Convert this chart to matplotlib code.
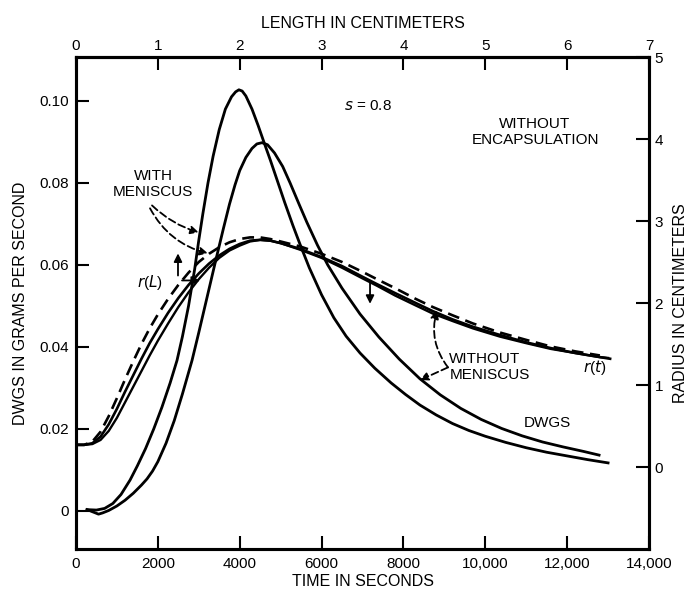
import matplotlib
matplotlib.use("Agg")
import matplotlib.pyplot as plt
import numpy as np

plt.rcParams['font.family'] = ['Liberation Sans', 'DejaVu Sans']

# ---------------- data ----------------
# DWGS with meniscus (tall peak), grams per second vs time in seconds
dwgs_with_t = [270, 500, 700, 900, 1100, 1320, 1500, 1700, 1900, 2100, 2300, 2468, 2600, 2750,
               2900, 3000, 3100, 3225, 3350, 3500, 3650, 3800, 3900, 3980, 4060, 4150, 4300,
               4450, 4600, 4750, 4910, 5100, 5300, 5474, 5700, 6000, 6300, 6600, 6940, 7300,
               7700, 8050, 8405, 8800, 9200, 9600, 10000, 10500, 11000, 11500, 12000, 12500, 13000]
dwgs_with = [0.0003, 0.0002, 0.0006, 0.0018, 0.0040, 0.0075, 0.0110, 0.0152, 0.0200, 0.0253,
             0.0312, 0.0367, 0.0425, 0.0500, 0.0590, 0.0660, 0.0725, 0.0800, 0.0865, 0.0930,
             0.0980, 0.1010, 0.1022, 0.1027, 0.1024, 0.1012, 0.0980, 0.0940, 0.0897, 0.0855,
             0.0808, 0.0752, 0.0696, 0.0650, 0.0593, 0.0527, 0.0471, 0.0426, 0.0385, 0.0348,
             0.0312, 0.0284, 0.0258, 0.0234, 0.0213, 0.0196, 0.0182, 0.0167, 0.0154, 0.0143,
             0.0134, 0.0125, 0.0117]
# DWGS without meniscus (broad peak)
dwgs_without_t = [270, 450, 550, 650, 800, 1000, 1200, 1400, 1600, 1735, 1870, 2000, 2200, 2400,
                  2600, 2835, 3000, 3200, 3400, 3600, 3750, 3885, 4000, 4150, 4300, 4420, 4544,
                  4680, 4850, 5050, 5230, 5450, 5640, 5900, 6150, 6500, 6940, 7400, 7900, 8405,
                  8900, 9400, 9900, 10400, 10900, 11400, 11900, 12400, 12780]
dwgs_without = [0.0003, -0.0004, -0.0008, -0.0005, 0.0001, 0.0012, 0.0026, 0.0043, 0.0063,
                0.0078, 0.0097, 0.0120, 0.0165, 0.0220, 0.0285, 0.0367, 0.0435, 0.0520, 0.0605,
                0.0688, 0.0748, 0.0795, 0.0830, 0.0862, 0.0884, 0.0895, 0.0898, 0.0893, 0.0873,
                0.0840, 0.0800, 0.0748, 0.0704, 0.0648, 0.0600, 0.0543, 0.0480, 0.0424, 0.0370,
                0.0322, 0.0283, 0.0250, 0.0223, 0.0201, 0.0183, 0.0168, 0.0156, 0.0145, 0.0136]

# radius curves (right axis, centimeters)
r_dash_t = [0, 200, 400, 600, 800, 1000, 1200, 1400, 1600, 1800, 2000, 2250, 2500, 2750, 3000,
            3250, 3500, 3750, 4000, 4250, 4500, 4750, 5000, 5474, 6000, 6500, 7000, 7354, 7800,
            8300, 8721, 9200, 9700, 10358, 11000, 11600, 12200, 12800]
r_dash = [0.27, 0.27, 0.31, 0.43, 0.62, 0.84, 1.07, 1.29, 1.50, 1.69, 1.86, 2.05, 2.22, 2.37,
          2.50, 2.60, 2.68, 2.74, 2.78, 2.80, 2.80, 2.78, 2.75, 2.69, 2.60, 2.50, 2.38, 2.29,
          2.18, 2.05, 1.95, 1.85, 1.75, 1.64, 1.55, 1.47, 1.41, 1.36]
r_a_t = [0, 200, 400, 600, 800, 1000, 1200, 1400, 1600, 1800, 2000, 2250, 2500, 2750, 3000, 3250,
         3500, 3750, 4000, 4250, 4500, 4750, 5000, 5474, 6000, 6500, 7000, 7354, 7800, 8300, 8721,
         9200, 9700, 10358, 11000, 11600, 12200, 12800, 13050]
r_a = [0.27, 0.27, 0.29, 0.37, 0.52, 0.71, 0.92, 1.12, 1.32, 1.51, 1.68, 1.88, 2.06, 2.22, 2.36,
       2.48, 2.58, 2.66, 2.72, 2.76, 2.77, 2.76, 2.73, 2.66, 2.56, 2.45, 2.32, 2.23, 2.12, 2.00,
       1.90, 1.80, 1.71, 1.61, 1.52, 1.45, 1.39, 1.34, 1.32]
r_b_t = [0, 200, 400, 600, 800, 1000, 1200, 1400, 1600, 1800, 2000, 2250, 2500, 2750, 3000, 3250,
         3500, 3750, 4000, 4250, 4500, 4750, 5000, 5474, 6000, 6500, 7000, 7354, 7800, 8300, 8721,
         9200, 9700, 10358, 11000, 11600, 12200, 12800, 13000]
r_b = [0.27, 0.27, 0.28, 0.33, 0.44, 0.60, 0.79, 0.98, 1.17, 1.36, 1.54, 1.75, 1.95, 2.13, 2.29,
       2.43, 2.55, 2.64, 2.70, 2.75, 2.77, 2.76, 2.73, 2.65, 2.55, 2.43, 2.30, 2.21, 2.09, 1.97,
       1.87, 1.78, 1.69, 1.59, 1.51, 1.44, 1.39, 1.34, 1.33]

time_ticks = [0, 2000, 4000, 6000, 8000, 10000, 12000, 14000]
time_labels = ['0', '2000', '4000', '6000', '8000', '10,000', '12,000', '14,000']
dwgs_ticks = [0, 0.02, 0.04, 0.06, 0.08, 0.10]
dwgs_labels = ['0', '0.02', '0.04', '0.06', '0.08', '0.10']
length_ticks = [0, 1, 2, 3, 4, 5, 6, 7]
radius_ticks = [0, 1, 2, 3, 4, 5]

# ---------------- figure ----------------
W, H = 691, 592
fig = plt.figure(figsize=(W / 100, H / 100), dpi=100)
L, R, T, B = 76, 649, 57, 549
ax = fig.add_axes([L / W, 1 - B / H, (R - L) / W, (B - T) / H])
ax.set_xlim(0, 14000)
ax.set_ylim(-0.0093, 0.1107)

axr = ax.twinx()
axr.set_ylim(-1.0, 5.0)

lw = 2.0
ax.plot(dwgs_with_t, dwgs_with, color='black', lw=lw, solid_joinstyle='round')
ax.plot(dwgs_without_t, dwgs_without, color='black', lw=lw, solid_joinstyle='round')
axr.plot(r_a_t, r_a, color='black', lw=1.9, solid_joinstyle='round')
axr.plot(r_b_t, r_b, color='black', lw=1.7, solid_joinstyle='round')
axr.plot(r_dash_t, r_dash, color='black', lw=1.9, dashes=(4.5, 2.5))

for a in (ax, axr):
    for s in a.spines.values():
        s.set_linewidth(2.2)

tick_kw = dict(direction='in', length=9.5, width=1.5, labelsize=11)
ax.set_xticks(time_ticks)
ax.set_xticklabels(time_labels)
ax.set_yticks(dwgs_ticks)
ax.set_yticklabels(dwgs_labels)
ax.tick_params(axis='x', pad=6, **tick_kw)
ax.tick_params(axis='y', pad=5, **tick_kw)
axr.set_yticks(radius_ticks)
axr.tick_params(axis='y', pad=4, **tick_kw)

sec = ax.secondary_xaxis('top', functions=(lambda t: np.asarray(t) / 2000.0,
                                           lambda l: np.asarray(l) * 2000.0))
sec.set_xticks(length_ticks)
sec.tick_params(pad=3, **tick_kw)
sec.spines['top'].set_linewidth(2.2)

ax.set_xlabel('TIME IN SECONDS', fontsize=11.5, labelpad=2)
ax.set_ylabel('DWGS IN GRAMS PER SECOND', fontsize=11.5, labelpad=8)
axr.set_ylabel('RADIUS IN CENTIMETERS', fontsize=11.5, labelpad=7)
sec.set_xlabel('LENGTH IN CENTIMETERS', fontsize=11.5, labelpad=8)

fs = 11
ax.text(7134, 0.0988, r'$s$ = 0.8', fontsize=fs, ha='center', va='center')
ax.text(11215, 0.0925, 'WITHOUT\nENCAPSULATION', fontsize=fs, ha='center', va='center',
        linespacing=1.2)
ax.text(1881, 0.0798, 'WITH\nMENISCUS', fontsize=fs, ha='center', va='center', linespacing=1.2)
ax.text(1808, 0.0557, r'$r$($L$)', fontsize=fs, ha='center', va='center')
ax.text(12665, 0.0350, r'$r$($t$)', fontsize=fs, ha='center', va='center')
ax.text(9120, 0.0350, 'WITHOUT\nMENISCUS', fontsize=fs, ha='left', va='center',
        linespacing=1.2)
ax.text(11520, 0.0214, 'DWGS', fontsize=fs, ha='center', va='center')

dash_arrow = dict(arrowstyle='-|>', color='black', lw=1.3, linestyle=(0, (4, 2)),
                  mutation_scale=12, shrinkA=0, shrinkB=0)
solid_arrow = dict(arrowstyle='-|>', color='black', lw=1.3, mutation_scale=12,
                   shrinkA=0, shrinkB=0)

ax.annotate('', xy=(3000, 0.0679), xytext=(1857, 0.0745),
            arrowprops=dict(dash_arrow, connectionstyle='arc3,rad=0.12'))
ax.annotate('', xy=(3225, 0.0628), xytext=(1808, 0.0738),
            arrowprops=dict(dash_arrow, connectionstyle='arc3,rad=0.22'))
ax.annotate('', xy=(2492, 0.0628), xytext=(2492, 0.0574), arrowprops=solid_arrow)
ax.annotate('', xy=(3030, 0.0562), xytext=(2590, 0.0562), arrowprops=solid_arrow)
ax.annotate('', xy=(7184, 0.0505), xytext=(7184, 0.0557), arrowprops=solid_arrow)
ax.annotate('', xy=(8820, 0.0489), xytext=(9089, 0.0350),
            arrowprops=dict(dash_arrow, connectionstyle='arc3,rad=-0.25'))
ax.annotate('', xy=(8405, 0.0319), xytext=(9089, 0.0350),
            arrowprops=dict(dash_arrow, connectionstyle='arc3,rad=0.0'))

fig.savefig('out.png', dpi=100)
